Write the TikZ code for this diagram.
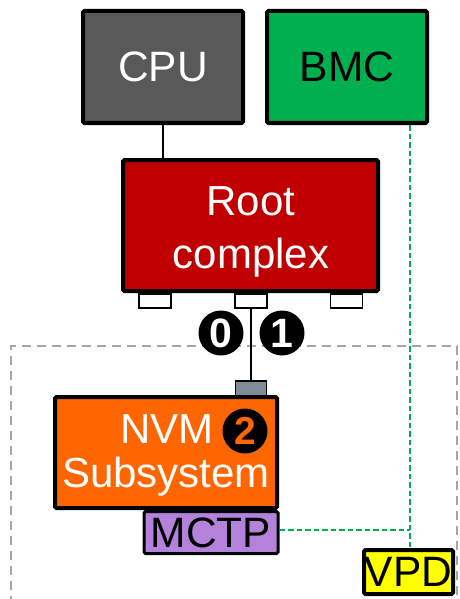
\documentclass[tikz,border=0pt]{standalone}
\usepackage{fontspec}
\setmainfont{Liberation Sans}
\definecolor{cpugray}{HTML}{595959}
\definecolor{bmcgreen}{HTML}{00B050}
\definecolor{rootred}{HTML}{C00000}
\definecolor{nvmorange}{HTML}{FF6600}
\definecolor{mctppurple}{HTML}{B482DA}
\definecolor{vpdyellow}{HTML}{FFFF00}
\definecolor{conngray}{HTML}{7F8C95}
\definecolor{dashgray}{HTML}{A6A6A6}
\begin{document}
\begin{tikzpicture}[x=1pt,y=-1pt,
  bigbox/.style={draw=black,line width=4pt,rounded corners=1.5pt,inner sep=0pt,font=\fontsize{42.5}{50}\selectfont},
  portbox/.style={draw=black,line width=1.5pt,fill=white,inner sep=0pt},
  badge/.style={circle,fill=black,inner sep=0pt,minimum size=45pt,font=\bfseries\fontsize{41}{41}\selectfont},
  lbl/.style={inner sep=0pt,font=\fontsize{42}{50}\selectfont},
  greendash/.style={draw=bmcgreen,line width=2.2pt,dash pattern=on 5.5pt off 3pt},
  graydash/.style={draw=dashgray,line width=2.2pt,dash pattern=on 9pt off 6pt},
  wire/.style={draw=black,line width=1.6pt}]
\useasboundingbox (0,0) rectangle (459,599);
% dashed enclosure
\draw[graydash] (11,620) -- (11,346) -- (457,346) -- (457,620);
% top boxes
\node[bigbox,fill=cpugray,text=white,minimum width=160pt,minimum height=112pt] (cpu) at (163,67) {CPU};
\node[bigbox,fill=bmcgreen,text=black,minimum width=160pt,minimum height=112pt] (bmc) at (347,67) {BMC};
% root complex
\node[bigbox,fill=rootred,minimum width=255pt,minimum height=131pt] (root) at (250.5,225.5) {};
\node[lbl,text=white,anchor=base] (roottxt1) at (251,215) {Root};
\node[lbl,text=white,anchor=base] (roottxt2) at (251,268) {complex};
% ports
\node[portbox,minimum width=32pt,minimum height=14pt] (portl) at (155,301) {};
\node[portbox,minimum width=32pt,minimum height=14pt] (portm) at (251,301) {};
\node[portbox,minimum width=32pt,minimum height=14pt] (portr) at (346.5,301) {};
% connector to NVM
\node[portbox,fill=conngray,minimum width=31pt,minimum height=15pt] (conn) at (251,388.5) {};
\draw[wire] (cpu.south) -- (cpu.south |- root.north);
\draw[wire] (portm.south) -- (conn.north);
% badges 0 and 1
\node[badge,text=white] (b0) at (221,333) {0};
\node[badge,text=white] (b1) at (282,333) {1};
% NVM subsystem
\node[bigbox,fill=nvmorange,minimum width=222pt,minimum height=111pt] (nvm) at (166,452.5) {};
\node[lbl,text=white,anchor=base east] (nvmtxt1) at (214,443) {NVM};
\node[lbl,text=white,anchor=base] (nvmtxt2) at (166,487) {Subsystem};
\node[badge,text=nvmorange,font=\bfseries\fontsize{39}{39}\selectfont] (b2) at (245,431) {2};
% MCTP
\node[bigbox,line width=3pt,fill=mctppurple,text=black,minimum width=134pt,minimum height=42pt] (mctp) at (211,532.5) {MCTP};
% VPD
\node[bigbox,fill=vpdyellow,text=black,minimum width=89pt,minimum height=44pt] (vpd) at (408.5,572) {VPD};
% sideband
\coordinate (junc) at (410,530);
\draw[greendash] (bmc.south -| junc) -- (junc) -- (junc |- vpd.north);
\draw[greendash] (mctp.east |- junc) -- (junc);
\end{tikzpicture}
\end{document}
